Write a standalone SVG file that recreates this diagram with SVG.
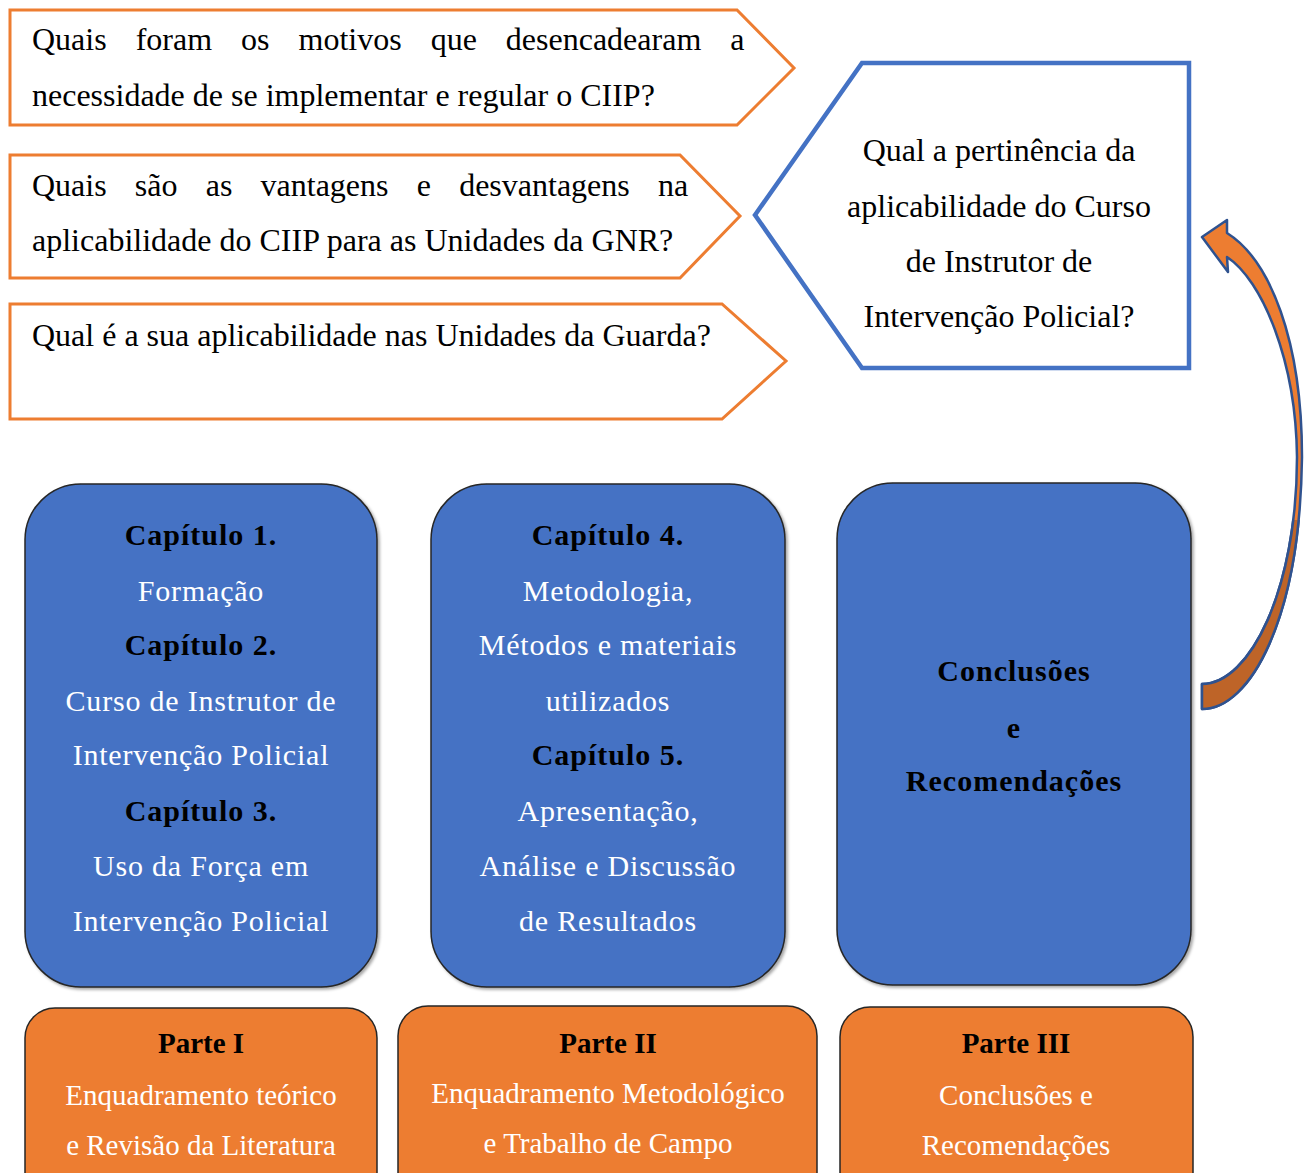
<svg xmlns="http://www.w3.org/2000/svg" width="1310" height="1173" viewBox="0 0 1310 1173">
<defs>
<style>
.q{fill:#fff;stroke:#ED7D31;stroke-width:3}
.qt{font-family:"Liberation Serif","Times New Roman",serif;font-size:32px;fill:#000}
.hex{fill:#fff;stroke:#4472C4;stroke-width:4.5}
.blue{fill:#4472C4;stroke:#262626;stroke-width:1.5}
.org{fill:#ED7D31;stroke:#262626;stroke-width:1.5}
.bt{font-family:"Liberation Serif","Times New Roman",serif;font-size:30px;text-anchor:middle}
.h{font-weight:bold;fill:#000;letter-spacing:1px}
.w{fill:#fff;letter-spacing:0.8px}
.ot{font-family:"Liberation Serif","Times New Roman",serif;font-size:29px;text-anchor:middle}
.oh{font-weight:bold;fill:#000}
.ow{fill:#fff}
.arr{stroke:#2F528F;stroke-width:2.5;stroke-linejoin:round}
</style>
<filter id="sh" x="-5%" y="-5%" width="112%" height="112%">
<feDropShadow dx="2" dy="2" stdDeviation="1.5" flood-color="#000" flood-opacity="0.35"/>
</filter>
<clipPath id="low"><rect x="1150" y="520" width="160" height="220"/></clipPath>
<path id="curved" d="M1202,709 C1250,709 1300,620 1302,457 C1302,340 1270,260 1227,233 L1227,220 L1202,237 L1228,272 L1227,257 C1262,280 1296,360 1297,457 C1297,590 1250,684 1202,684 Z"/>
</defs>

<g id="q1">
<polygon class="q" points="10,10 737,10 794,68 737,125 10,125"/>
<text class="qt" x="32" y="50" word-spacing="21">Quais foram os motivos que desencadearam a</text>
<text class="qt" x="32" y="106">necessidade de se implementar e regular o CIIP?</text>
</g>
<g id="q2">
<polygon class="q" points="10,155 680,155 740,216 680,278 10,278"/>
<text class="qt" x="32" y="196" word-spacing="20.2">Quais são as vantagens e desvantagens na</text>
<text class="qt" x="32" y="251">aplicabilidade do CIIP para as Unidades da GNR?</text>
</g>
<g id="q3">
<polygon class="q" points="10,304 722,304 786,361 722,419 10,419"/>
<text class="qt" x="32" y="346">Qual é a sua aplicabilidade nas Unidades da Guarda?</text>
</g>
<g id="qmain">
<polygon class="hex" points="755,215 862,63 1189,63 1189,368 862,368"/>
<text class="qt" text-anchor="middle" x="999" y="161">Qual a pertinência da</text>
<text class="qt" text-anchor="middle" x="999" y="217">aplicabilidade do Curso</text>
<text class="qt" text-anchor="middle" x="999" y="272">de Instrutor de</text>
<text class="qt" text-anchor="middle" x="999" y="327">Intervenção Policial?</text>
</g>

<g id="cap1">
<rect class="blue" filter="url(#sh)" x="25" y="484" width="352" height="503" rx="56"/>
<text class="bt h" x="201" y="545">Capítulo 1.</text>
<text class="bt w" x="201" y="601">Formação</text>
<text class="bt h" x="201" y="655">Capítulo 2.</text>
<text class="bt w" x="201" y="711">Curso de Instrutor de</text>
<text class="bt w" x="201" y="765">Intervenção Policial</text>
<text class="bt h" x="201" y="821">Capítulo 3.</text>
<text class="bt w" x="201" y="876">Uso da Força em</text>
<text class="bt w" x="201" y="931">Intervenção Policial</text>
</g>
<g id="cap2">
<rect class="blue" filter="url(#sh)" x="431" y="484" width="354" height="503" rx="56"/>
<text class="bt h" x="608" y="545">Capítulo 4.</text>
<text class="bt w" x="608" y="601">Metodologia,</text>
<text class="bt w" x="608" y="655">Métodos e materiais</text>
<text class="bt w" x="608" y="711">utilizados</text>
<text class="bt h" x="608" y="765">Capítulo 5.</text>
<text class="bt w" x="608" y="821">Apresentação,</text>
<text class="bt w" x="608" y="876">Análise e Discussão</text>
<text class="bt w" x="608" y="931">de Resultados</text>
</g>
<g id="concl">
<rect class="blue" filter="url(#sh)" x="837" y="483" width="354" height="502" rx="56"/>
<text class="bt h" x="1014" y="681">Conclusões</text>
<text class="bt h" x="1014" y="738">e</text>
<text class="bt h" x="1014" y="791">Recomendações</text>
</g>

<g id="parte1">
<rect class="org" x="25" y="1008" width="352" height="220" rx="30"/>
<text class="ot oh" x="201" y="1053">Parte I</text>
<text class="ot ow" x="201" y="1105">Enquadramento teórico</text>
<text class="ot ow" x="201" y="1155">e Revisão da Literatura</text>
</g>
<g id="parte2">
<rect class="org" x="398" y="1006" width="419" height="220" rx="30"/>
<text class="ot oh" x="608" y="1053">Parte II</text>
<text class="ot ow" x="608" y="1103">Enquadramento Metodológico</text>
<text class="ot ow" x="608" y="1153">e Trabalho de Campo</text>
</g>
<g id="parte3">
<rect class="org" x="840" y="1007" width="353" height="220" rx="30"/>
<text class="ot oh" x="1016" y="1053">Parte III</text>
<text class="ot ow" x="1016" y="1105">Conclusões e</text>
<text class="ot ow" x="1016" y="1155">Recomendações</text>
</g>

<g id="connectors">
<use href="#curved" class="arr" fill="#ED7D31"/>
<use href="#curved" class="arr" fill="#BE6428" clip-path="url(#low)"/>
</g>
</svg>
